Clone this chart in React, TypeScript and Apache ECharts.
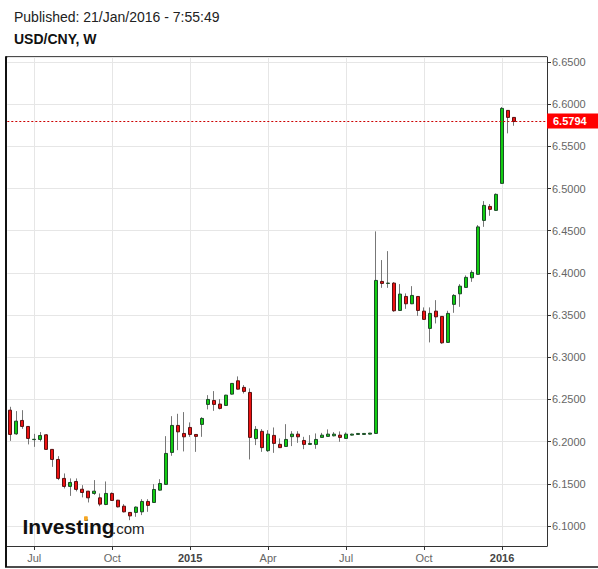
import { useEffect, useRef } from 'react';
import * as echarts from 'echarts';

const FONT = '"Liberation Sans", Arial, sans-serif';

// Weekly categories starting on the week of 8 Jun 2014 (90 weekly slots, 85 with data)
const START_MS = Date.UTC(2014, 5, 8);
const WEEK_COUNT = 90;
const categories: string[] = Array.from({ length: WEEK_COUNT }, (_, i) =>
  new Date(START_MS + i * 7 * 86400000).toISOString().slice(0, 10)
);

const xTickIdx = [4, 17, 30, 43, 56, 69, 82];
const xTickLabels = ['Jul', 'Oct', '2015', 'Apr', 'Jul', 'Oct', '2016'];
const yearLabels = ['2015', '2016'];

const yMin = 6.0763;
const yMax = 6.6559;

const opens = [
  6.2373, 6.2092, 6.2251, 6.2180, 6.2024, 6.2026, 6.2081, 6.1908, 6.1789, 6.1564,
  6.1469, 6.1528, 6.1436, 6.1413, 6.1386, 6.1334, 6.1255, 6.1386, 6.1306, 6.1235,
  6.1161, 6.1161, 6.1168, 6.1291, 6.1279, 6.1425, 6.1493, 6.1872, 6.2192, 6.2097,
  6.2168, 6.2085, 6.2204, 6.2441, 6.2488, 6.2445, 6.2429, 6.2563, 6.2721, 6.2643,
  6.2583, 6.2036, 6.2122, 6.1893, 6.2074, 6.1968, 6.1943, 6.2059, 6.2089, 6.2014,
  6.1967, 6.1967, 6.2050, 6.2062, 6.2069, 6.2077, 6.2038, 6.2077, 6.2085, 6.2085,
  6.2089, 6.2097, 6.3899, 6.3875, 6.3879, 6.3555, 6.3721, 6.3634, 6.3721, 6.3547,
  6.3342, 6.3547, 6.3484, 6.3176, 6.3627, 6.3752, 6.3828, 6.3942, 6.3983, 6.4622,
  6.4788, 6.4741, 6.5061, 6.5926, 6.5843,
];
const closes = [
  6.2085, 6.2243, 6.2180, 6.2038, 6.2028, 6.2073, 6.1908, 6.1789, 6.1564, 6.1469,
  6.1516, 6.1434, 6.1397, 6.1334, 6.1413, 6.1259, 6.1386, 6.1303, 6.1227, 6.1168,
  6.1120, 6.1224, 6.1291, 6.1244, 6.1433, 6.1504, 6.1860, 6.2192, 6.2116, 6.2057,
  6.2085, 6.2062, 6.2275, 6.2500, 6.2441, 6.2394, 6.2551, 6.2690, 6.2622, 6.2595,
  6.2050, 6.2145, 6.1929, 6.2089, 6.1979, 6.1929, 6.2026, 6.2089, 6.2057, 6.1967,
  6.1979, 6.2026, 6.2077, 6.2089, 6.2089, 6.2050, 6.2089, 6.2089, 6.2097, 6.2097,
  6.2101, 6.3911, 6.3875, 6.3879, 6.3551, 6.3749, 6.3634, 6.3733, 6.3555, 6.3449,
  6.3520, 6.3479, 6.3171, 6.3520, 6.3733, 6.3843, 6.3947, 6.4006, 6.4545, 6.4800,
  6.4753, 6.4931, 6.5950, 6.5843, 6.5794,
];
const lows = [
  6.2009, 6.2081, 6.2152, 6.1967, 6.1938, 6.2002, 6.1905, 6.1701, 6.1544, 6.1445,
  6.1357, 6.1410, 6.1339, 6.1279, 6.1369, 6.1235, 6.1247, 6.1300, 6.1220, 6.1161,
  6.1069, 6.1109, 6.1129, 6.1168, 6.1275, 6.1420, 6.1490, 6.1832, 6.1899, 6.1884,
  6.2057, 6.1879, 6.2057, 6.2382, 6.2365, 6.2382, 6.2425, 6.2558, 6.2618, 6.2571,
  6.1789, 6.1959, 6.1879, 6.1879, 6.1867, 6.1925, 6.1940, 6.1947, 6.1986, 6.1911,
  6.1964, 6.1915, 6.2047, 6.2060, 6.2062, 6.1998, 6.2035, 6.2073, 6.2082, 6.2082,
  6.2086, 6.2095, 6.3823, 6.3823, 6.3539, 6.3551, 6.3574, 6.3630, 6.3491, 6.3445,
  6.3176, 6.3401, 6.3159, 6.3172, 6.3527, 6.3598, 6.3825, 6.3894, 6.3980, 6.4546,
  6.4677, 6.4738, 6.5058, 6.5654, 6.5744,
];
const highs = [
  6.2413, 6.2362, 6.2373, 6.2185, 6.2092, 6.2113, 6.2089, 6.1912, 6.1828, 6.1623,
  6.1564, 6.1564, 6.1484, 6.1416, 6.1544, 6.1386, 6.1528, 6.1398, 6.1310, 6.1259,
  6.1165, 6.1232, 6.1318, 6.1318, 6.1496, 6.1555, 6.2065, 6.2302, 6.2330, 6.2350,
  6.2228, 6.2088, 6.2290, 6.2551, 6.2599, 6.2504, 6.2555, 6.2695, 6.2773, 6.2670,
  6.2631, 6.2184, 6.2148, 6.2136, 6.2168, 6.2038, 6.2207, 6.2124, 6.2124, 6.2057,
  6.2077, 6.2097, 6.2104, 6.2145, 6.2113, 6.2121, 6.2109, 6.2095, 6.2100, 6.2100,
  6.2104, 6.4492, 6.4152, 6.4258, 6.3891, 6.3867, 6.3757, 6.3843, 6.3725, 6.3591,
  6.3591, 6.3677, 6.3488, 6.3551, 6.3749, 6.3867, 6.3970, 6.4031, 6.4567, 6.4851,
  6.4816, 6.4942, 6.5966, 6.5930, 6.5846,
];

const lastClose = closes[closes.length - 1];

export default function App() {
  const ref = useRef<HTMLDivElement | null>(null);

  useEffect(() => {
    if (!ref.current) return;
    const chart = echarts.init(ref.current, null, { renderer: 'svg' });

    const wickData = opens.map((o, i) => [o, closes[i], lows[i], highs[i]]);
    const bodyData = opens.map((o, i) => [o, closes[i], Math.min(o, closes[i]), Math.max(o, closes[i])]);

    const showIdx = (i: number) => xTickIdx.indexOf(i) >= 0;

    chart.setOption({
      animation: false,
      backgroundColor: '#ffffff',
      grid: { left: 7.3, right: 51, top: 57, bottom: 23, containLabel: false },
      xAxis: {
        type: 'category',
        data: categories,
        boundaryGap: true,
        axisLine: { show: true, lineStyle: { color: '#333333', width: 1 } },
        axisTick: {
          show: true,
          alignWithLabel: true,
          interval: (i: number) => showIdx(i),
          length: 4,
          lineStyle: { color: '#333333' },
        },
        axisLabel: {
          show: true,
          interval: (i: number) => showIdx(i),
          margin: 6,
          formatter: (_v: string, i: number) => {
            const k = xTickIdx.indexOf(i);
            if (k < 0) return '';
            const t = xTickLabels[k];
            return yearLabels.indexOf(t) >= 0 ? `{y|${t}}` : `{m|${t}}`;
          },
          rich: {
            m: { color: '#666666', fontSize: 11, fontFamily: FONT },
            y: { color: '#444444', fontSize: 11, fontWeight: 'bold', fontFamily: FONT },
          },
        },
        splitLine: { show: false },
      },
      yAxis: {
        type: 'value',
        position: 'right',
        min: yMin,
        max: yMax,
        splitNumber: 11,
        scale: true,
        axisLine: { show: true, lineStyle: { color: '#333333', width: 1 } },
        axisTick: { show: true, length: 4, lineStyle: { color: '#333333' } },
        axisLabel: {
          color: '#666666',
          fontSize: 11,
          fontFamily: FONT,
          margin: 5,
          showMinLabel: false,
          showMaxLabel: false,
          formatter: (v: number) => {
            const r = Math.round(v / 0.05) * 0.05;
            return Math.abs(v - r) < 1e-6 ? v.toFixed(4) : '';
          },
        },
        splitLine: { show: true, lineStyle: { color: '#e6e6e6', width: 1 } },
      },
      series: [
        {
          type: 'candlestick',
          name: 'wicks',
          data: wickData,
          barWidth: 1,
          z: 2,
          silent: true,
          itemStyle: {
            color: '#777777',
            color0: '#777777',
            borderColor: '#777777',
            borderColor0: '#777777',
            borderWidth: 1,
          },
          markLine: {
            silent: true,
            z: 1,
            symbol: ['none', 'none'],
            label: { show: false },
            lineStyle: { color: '#e6e6e6', type: 'solid', width: 1 },
            data: xTickIdx.map((i) => ({ xAxis: categories[i] })),
          },
        },
        {
          type: 'candlestick',
          name: 'USD/CNY',
          data: bodyData,
          barWidth: 3.2,
          z: 3,
          silent: true,
          itemStyle: {
            color: '#11cc11',
            color0: '#ee1111',
            borderColor: '#1d4a28',
            borderColor0: '#5a1212',
            borderWidth: 1,
          },
          markLine: {
            silent: true,
            symbol: ['none', 'none'],
            lineStyle: { color: '#cc0000', type: [2, 2], width: 1 },
            label: {
              show: true,
              position: 'end',
              distance: 0,
              formatter: lastClose.toFixed(4),
              color: '#ffffff',
              fontWeight: 'bold',
              fontSize: 11,
              fontFamily: FONT,
              backgroundColor: '#ff0000',
              padding: [2, 12, 2, 6],
              lineHeight: 11,
            },
            data: [{ yAxis: lastClose }],
          },
        },
      ],
      graphic: [
        {
          type: 'text',
          x: 14,
          y: 17.3,
          style: {
            text: 'Published: 21/Jan/2016 - 7:55:49',
            fontSize: 14,
            fontFamily: FONT,
            fill: '#222222',
            verticalAlign: 'middle',
          },
        },
        {
          type: 'text',
          x: 14,
          y: 38.5,
          style: {
            text: 'USD/CNY, W',
            fontSize: 14,
            fontWeight: 'bold',
            fontFamily: FONT,
            fill: '#111111',
            verticalAlign: 'middle',
          },
        },
        { type: 'line', shape: { x1: 6, y1: 57, x2: 547, y2: 57 }, style: { stroke: '#111111', lineWidth: 1.5 } },
        { type: 'line', shape: { x1: 6, y1: 56.3, x2: 6, y2: 567 }, style: { stroke: '#111111', lineWidth: 2 } },
        { type: 'line', shape: { x1: 5, y1: 567, x2: 598, y2: 567 }, style: { stroke: '#111111', lineWidth: 1.5 } },
        {
          type: 'text',
          x: 22.5,
          y: 526.6,
          z: 10,
          style: {
            text: 'Investing',
            fontSize: 21,
            fontWeight: 'bold',
            fontFamily: FONT,
            fill: '#111111',
            verticalAlign: 'middle',
          },
        },
        {
          type: 'text',
          x: 112,
          y: 528.8,
          z: 10,
          style: {
            text: '.com',
            fontSize: 15,
            fontFamily: FONT,
            fill: '#222222',
            verticalAlign: 'middle',
          },
        },
        {
          type: 'rect',
          z: 11,
          shape: { x: 84, y: 516.3, width: 3.8, height: 4.4, r: 0.8 },
          style: { fill: '#f5a623' },
        },
      ],
    });

    return () => chart.dispose();
  }, []);

  return (
    <div
      ref={ref}
      style={{ position: 'fixed', left: 0, top: 0, width: 598, height: 569, background: '#ffffff' }}
    />
  );
}
